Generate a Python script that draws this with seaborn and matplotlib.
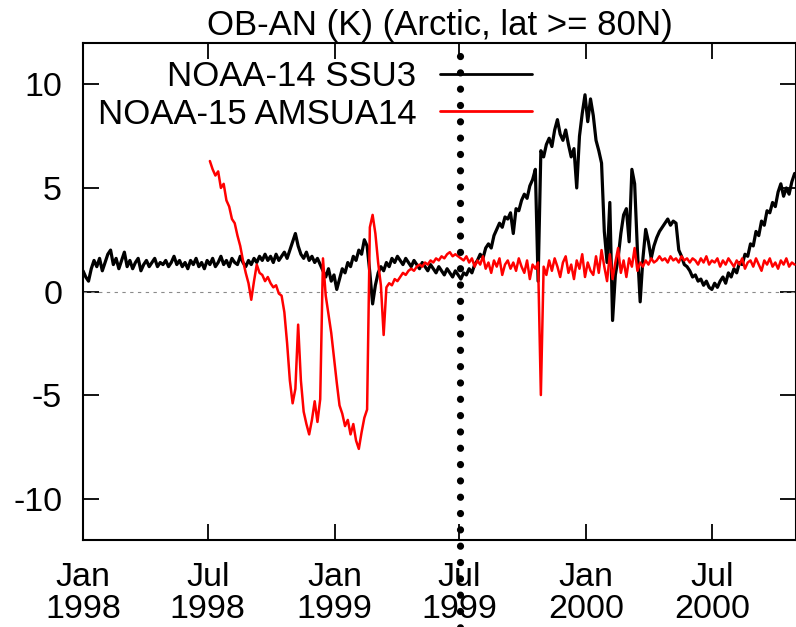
import matplotlib
matplotlib.use("Agg")
import matplotlib.pyplot as plt
import numpy as np
import pandas as pd
import seaborn as sns

# ---------------- data ----------------
title = "OB-AN (K) (Arctic, lat >= 80N)"
series_names = ["NOAA-14 SSU3", "NOAA-15 AMSUA14"]
series_colors = ["#000000", "#ff0000"]
sample_step_days = 4

ssu3_start = "1998-01-01"
ssu3_values = [
    1.0, 0.7, 0.5, 1.1, 1.5, 1.2, 1.6, 1.0, 1.4, 1.8,
    2.0, 1.3, 1.6, 1.1, 1.5, 1.9, 1.2, 1.5, 1.1, 1.4,
    1.6, 1.0, 1.3, 1.5, 1.2, 1.4, 1.6, 1.2, 1.4, 1.3,
    1.5, 1.2, 1.4, 1.7, 1.3, 1.5, 1.2, 1.4, 1.1, 1.5,
    1.3, 1.6, 1.2, 1.4, 1.1, 1.5, 1.3, 1.6, 1.2, 1.4,
    1.7, 1.3, 1.5, 1.2, 1.6, 1.4, 1.3, 1.7, 1.4, 1.2,
    1.5, 1.3, 1.6, 1.4, 1.7, 1.5, 1.8, 1.5, 1.7, 1.4,
    1.8, 1.5, 1.7, 1.9, 1.6, 2.0, 2.4, 2.8, 2.2, 1.8,
    1.6, 1.9, 1.5, 1.7, 1.4, 1.6, 1.3, 1.0, 0.7, 1.1,
    0.5, 0.8, 0.1, 0.6, 1.1, 0.9, 1.4, 1.2, 1.7, 1.5,
    2.0, 1.8, 2.5, 2.2, 0.9, -0.6, 0.3, 0.9, 1.2, 1.0,
    1.4, 1.2, 1.6, 1.4, 1.7, 1.5, 1.3, 1.6, 1.4, 1.2,
    1.5, 1.3, 1.1, 1.4, 1.2, 1.0, 1.3, 1.1, 0.9, 1.2,
    1.0, 0.8, 1.1, 0.9, 0.7, 1.0, 0.8, 0.6, 0.9, 0.8,
    1.1, 0.9, 1.3, 1.5, 1.8, 1.6, 2.1, 2.3, 2.1, 2.7,
    3.0, 3.3, 3.1, 3.6, 3.5, 3.8, 2.8, 4.0, 3.9, 4.4,
    4.7, 4.5, 5.1, 5.4, 5.9, 0.5, 6.8, 6.5, 7.1, 7.4,
    7.0, 7.8, 8.3, 7.6, 7.3, 7.8, 7.1, 6.5, 6.9, 5.0,
    7.5, 8.6, 9.5, 8.2, 9.3, 8.5, 7.3, 6.8, 6.2, 2.9,
    1.4, 4.3, -1.4, 0.8, 1.6, 2.8, 3.7, 4.0, 2.4, 5.9,
    5.2, 2.0, -0.5, 1.6, 3.0, 2.4, 1.6, 2.2, 2.6, 2.9,
    3.1, 3.3, 3.5, 3.2, 3.4, 3.3, 2.0, 1.7, 1.3, 1.2,
    1.0, 0.7, 0.8, 0.5, 0.6, 0.3, 0.5, 0.2, 0.1, 0.4,
    0.2, 0.5, 0.7, 0.4, 0.9, 0.7, 1.1, 0.9, 1.4, 1.3,
    1.8, 1.7, 2.3, 2.2, 2.9, 2.7, 3.4, 3.2, 3.9, 3.8,
    4.3, 4.1, 4.8, 5.2, 4.6, 5.0, 4.7, 5.3, 5.7,
]

amsua14_start = "1998-07-04"
amsua14_values = [
    6.3, 5.9, 5.6, 5.8, 5.0, 5.2, 4.4, 4.1, 3.5, 3.3,
    2.7, 2.2, 1.5, 0.9, 0.4, -0.4, 0.5, 1.3, 0.9, 0.8,
    0.5, 0.7, 0.4, 0.2, 0.3, -0.1, -0.2, -1.0, -2.5, -4.3,
    -5.4, -4.7, -1.6, -4.3, -5.8, -6.4, -6.9, -6.2, -5.3, -6.3,
    -5.2, 1.6, -0.2, -1.1, -2.0, -3.2, -4.4, -5.5, -5.9, -6.5,
    -6.2, -6.9, -6.4, -7.2, -7.6, -6.8, -6.1, -5.7, 3.1, 3.7,
    2.8, 1.4, 0.3, -2.1, 0.2, 0.4, 0.3, 0.6, 0.5, 0.7,
    0.9, 0.8, 1.0, 1.1, 1.0, 1.2, 1.3, 1.2, 1.4, 1.3,
    1.5, 1.4, 1.6, 1.5, 1.7, 1.6, 1.8, 1.9, 1.7, 1.8,
    1.7, 1.6, 1.5, 1.7, 1.4, 1.6, 1.2, 1.5, 1.3, 1.7,
    1.1, 1.4, 0.9, 1.5, 1.2, 1.6, 0.8, 1.3, 1.5, 1.1,
    1.4, 1.0, 1.6, 1.2, 0.9, 1.5, 0.6, 1.3, 1.1, 1.4,
    -5.0, 1.2, 0.8, 1.5, 1.0, 1.6, 1.2, 0.7, 1.4, 1.7,
    0.9, 1.3, 0.6, 1.5, 1.1, 1.8, 0.7, 1.4, 1.0, 0.8,
    1.7, 0.9, 2.0, 1.2, 0.5, 1.8, 0.6, 1.4, 2.1, 0.9,
    1.5, 0.7, 1.6, 1.2, 2.1, 1.0, 1.4, 1.2, 1.5, 1.3,
    1.6, 1.4, 1.5, 1.7, 1.5, 1.6, 1.4, 1.7, 1.5, 1.6,
    1.4, 1.7, 1.5, 1.6, 1.4, 1.6, 1.5, 1.3, 1.6, 1.4,
    1.7, 1.3, 1.5, 1.4, 1.6, 1.2, 1.5, 1.3, 1.6, 1.4,
    1.2, 1.5, 1.3, 1.6, 1.1, 1.4, 1.5, 1.2, 1.6, 1.3,
    1.0, 1.5, 1.3, 1.6, 1.2, 1.4, 1.1, 1.5, 1.3, 1.6,
    1.2, 1.4, 1.3,
]

event_date = "1999-07-02"
x_tick_dates = ["1998-01-01", "1998-07-01", "1999-01-01",
                "1999-07-01", "2000-01-01", "2000-07-01"]
x_tick_labels = ["Jan\n1998", "Jul\n1998", "Jan\n1999",
                 "Jul\n1999", "Jan\n2000", "Jul\n2000"]
y_ticks = [-10, -5, 0, 5, 10]
y_tick_labels = ["-10", "-5", "0", "5", "10"]
x_range = ["1998-01-01", "2000-10-31"]
y_range = [-12, 12]


def make_frame(start, values, name):
    dates = pd.date_range(start, periods=len(values), freq=f"{sample_step_days}D")
    return pd.DataFrame({"date": dates, "value": values, "series": name})


frames = [make_frame(ssu3_start, ssu3_values, series_names[0]),
          make_frame(amsua14_start, amsua14_values, series_names[1])]
line_widths = [2.3, 1.8]

# ---------------- figure ----------------
sns.set_theme(style="ticks")
plt.rcParams["font.family"] = ["Liberation Sans", "DejaVu Sans"]
plt.rcParams["axes.unicode_minus"] = False
plt.rcParams["text.color"] = "black"
plt.rcParams["xtick.color"] = "black"
plt.rcParams["ytick.color"] = "black"

W, H = 796, 627
fig = plt.figure(figsize=(W / 100, H / 100), dpi=100)
ax = fig.add_axes([83 / W, 1 - 540 / H, 713 / W, 497 / H])

ax.axhline(0, color="#8a8a8a", lw=0.8, ls=(0, (3, 4)), zorder=1)

for df, name, col, lw in zip(frames, series_names, series_colors, line_widths):
    sns.lineplot(data=df, x="date", y="value", ax=ax, color=col, label=name,
                 linewidth=lw, estimator=None, zorder=3)

# vertical dotted marker line
ev = pd.Timestamp(event_date)
ax.plot([ev, ev], [0.974, -0.2], transform=ax.get_xaxis_transform(),
        color="black", lw=5.2, ls=(0, (0.01, 2.25)), dash_capstyle="round",
        clip_on=False, zorder=10)

ax.set_xlim(pd.Timestamp(x_range[0]), pd.Timestamp(x_range[1]))
ax.set_ylim(*y_range)
ax.set_xticks(pd.to_datetime(x_tick_dates))
ax.set_xticklabels(x_tick_labels)
ax.set_yticks(y_ticks)
ax.set_yticklabels(y_tick_labels)
ax.set_xlabel("")
ax.set_ylabel("")

ax.tick_params(axis="both", direction="in", length=11.5, width=1.3,
               top=True, right=True, labelsize=24.5, colors="black")
ax.tick_params(axis="x", pad=16)
ax.tick_params(axis="y", pad=15)
for lab in ax.get_xticklabels():
    lab.set_linespacing(1.02)

for sp in ax.spines.values():
    sp.set_visible(True)
    sp.set_linewidth(1.5)
    sp.set_color("black")

ax.set_title(title, fontsize=25, pad=6, color="black")

handles, labels = ax.get_legend_handles_labels()
leg = ax.legend(handles, labels, loc="upper right",
                bbox_to_anchor=(532 / W, 1 - 60 / H),
                bbox_transform=fig.transFigure, frameon=False,
                markerfirst=False, fontsize=25, handlelength=2.65,
                handletextpad=0.68, labelspacing=0.13, borderpad=0,
                borderaxespad=0, labelcolor="black")
for line in leg.get_lines():
    line.set_linewidth(2.0)

fig.savefig("out.png", dpi=100)
